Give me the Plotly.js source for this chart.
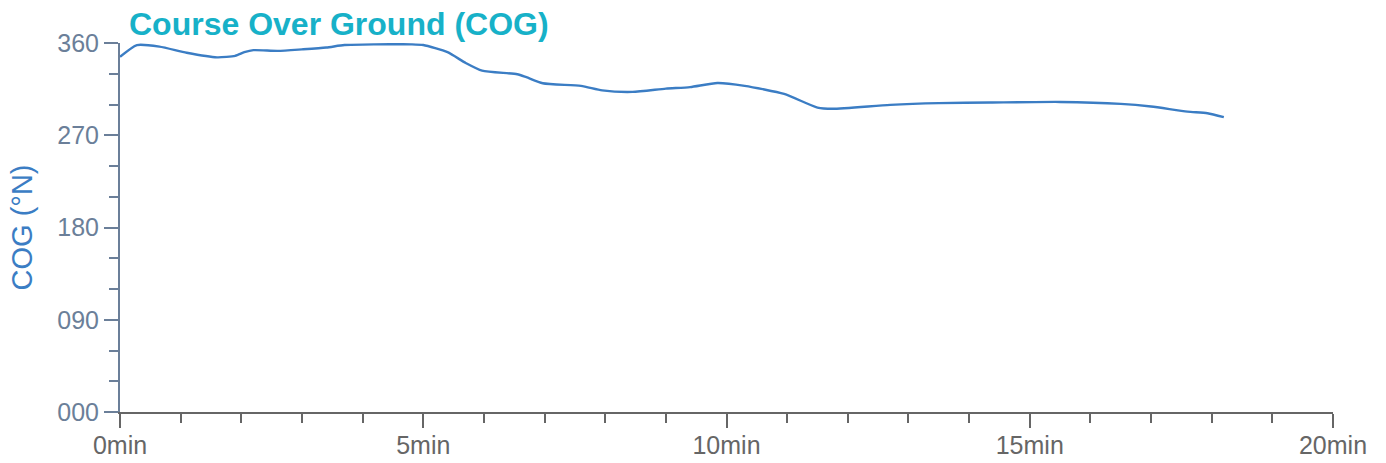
<!DOCTYPE html>
<html>
<head>
<meta charset="utf-8">
<script src="https://cdn.plot.ly/plotly-3.0.1.min.js"></script>
<style>html,body{margin:0;padding:0;background:#fff;}#chart{width:1386px;height:463px;}</style>
</head>
<body>
<div id="chart"></div>
<script>
// Time (minutes) and Course Over Ground (degrees true)
const timeMin = [0.00, 0.28, 0.65, 1.10, 1.60, 1.90, 2.05, 2.20, 2.60, 3.00, 3.40, 3.70, 4.20, 4.80, 5.00, 5.40, 5.70, 5.97, 6.55, 6.70, 6.97, 7.60, 7.95, 8.45, 9.00, 9.40, 9.85, 10.30, 10.95, 11.50, 11.75, 12.70, 13.50, 14.35, 15.50, 16.50, 17.00, 17.60, 17.93, 18.20];
const cogDeg  = [346.5, 358.0, 356.5, 350.5, 346.0, 347.5, 351.0, 353.0, 352.3, 353.8, 355.6, 358.0, 358.7, 358.7, 358.0, 351.0, 340.5, 333.0, 329.5, 326.6, 320.7, 318.2, 313.8, 312.3, 315.5, 317.0, 321.0, 318.2, 310.3, 297.0, 295.8, 299.6, 301.3, 301.9, 302.5, 300.6, 298.0, 293.1, 291.5, 287.6];
const xTickVals = [0, 5, 10, 15, 20];
const xTickText = ['0min', '5min', '10min', '15min', '20min'];
const yTickVals = [0, 90, 180, 270, 360];
const yTickText = ['000', '090', '180', '270', '360'];

const lineColor = '#3b7dc4';
const yAxisColor = '#6b7f99';
const xAxisColor = '#666666';
const sans = 'Liberation Sans, Arial, sans-serif';

const trace = {
  x: timeMin, y: cogDeg, type: 'scatter', mode: 'lines',
  line: {color: lineColor, width: 2.4, shape: 'spline', smoothing: 0.6},
  hoverinfo: 'skip'
};

const layout = {
  width: 1386, height: 463,
  margin: {l: 120, r: 53, t: 43, b: 51},
  paper_bgcolor: '#ffffff', plot_bgcolor: '#ffffff',
  showlegend: false,
  font: {family: sans},
  title: {
    text: '<b>Course Over Ground (COG)</b>',
    font: {size: 32, color: '#17b1c8', family: sans},
    x: 0, xref: 'paper', xanchor: 'left', xpad: 0,
    y: 1, yref: 'paper', yanchor: 'bottom', pad: {b: 8, l: 9}
  },
  xaxis: {
    range: [0, 20], showgrid: false, zeroline: false,
    showline: true, linecolor: xAxisColor, linewidth: 2,
    ticks: 'outside', ticklen: 14, tickwidth: 2, tickcolor: xAxisColor,
    tickvals: xTickVals, ticktext: xTickText,
    tickfont: {size: 25, color: xAxisColor, family: sans},
    ticklabelstandoff: -4,
    minor: {dtick: 1, ticks: 'outside', ticklen: 9, tickwidth: 2, tickcolor: xAxisColor}
  },
  yaxis: {
    range: [0, 360], showgrid: false, zeroline: false,
    showline: true, linecolor: yAxisColor, linewidth: 2,
    ticks: 'outside', ticklen: 14, tickwidth: 2, tickcolor: yAxisColor,
    tickvals: yTickVals, ticktext: yTickText,
    tickfont: {size: 25, color: yAxisColor, family: sans},
    minor: {dtick: 30, ticks: 'outside', ticklen: 9, tickwidth: 2, tickcolor: yAxisColor},
    title: {text: 'COG (°N)', font: {size: 29, color: lineColor}, standoff: 16}
  }
};

Plotly.newPlot('chart', [trace], layout, {displayModeBar: false, staticPlot: true});
</script>
</body>
</html>
